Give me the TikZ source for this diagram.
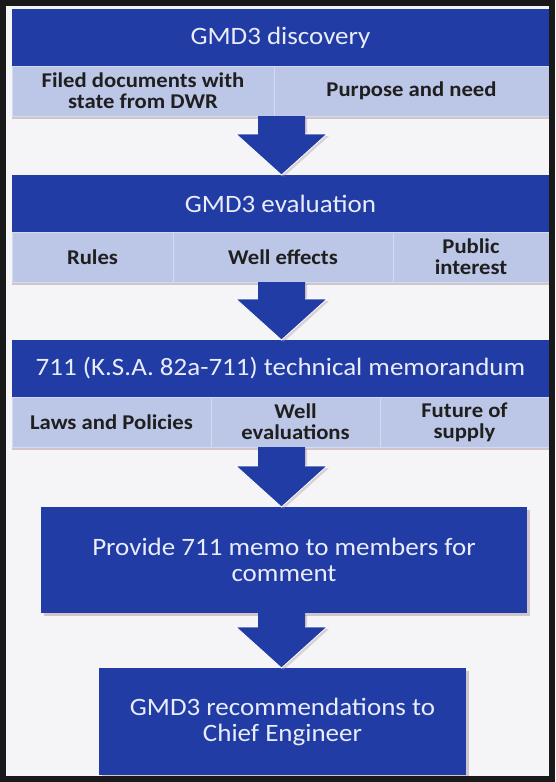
\documentclass[tikz,border=0pt]{standalone}
\usepackage{fontspec}
\setmainfont{Carlito}[FakeStretch=1.08]
\usetikzlibrary{positioning,calc,shadows}
\definecolor{gmdblue}{RGB}{33,61,165}
\definecolor{gmdlight}{RGB}{188,198,230}
\definecolor{gmdline}{RGB}{212,219,240}
\definecolor{gmdtext}{RGB}{234,236,250}
\definecolor{gmdback}{RGB}{245,244,247}
\definecolor{gmdshadow}{RGB}{165,140,150}

\begin{document}
\begin{tikzpicture}
        [
            x=1pt, y=-1pt,
            head/.style={fill=gmdblue, text=gmdtext, minimum width=537pt, minimum height=57pt,
                inner sep=0pt, outer sep=0pt, font=\fontsize{25}{28}\selectfont},
            cell/.style={fill=gmdlight, draw=gmdline, line width=0.6pt, minimum height=50pt,
                inner sep=0pt, outer sep=0pt, align=center, text=black!88,
                font=\bfseries\fontsize{21}{21}\selectfont,
                drop shadow={shadow xshift=0pt, shadow yshift=-3pt, fill=gmdshadow, opacity=0.45}},
            bigbox/.style={fill=gmdblue, text=gmdtext, inner sep=0pt, outer sep=0pt, align=center,
                font=\fontsize{25}{26}\selectfont,
                drop shadow={shadow xshift=3pt, shadow yshift=-3pt, fill=gmdshadow, opacity=0.45}},
            blockarrow/.style={fill=gmdblue,
                drop shadow={shadow xshift=2pt, shadow yshift=-2pt, fill=gmdshadow, opacity=0.35}},
            arrowedge/.style={draw=white, line width=0.8pt, line join=miter},
        ]
        \fill[gmdback] (0,0) rectangle (555,782);
        \useasboundingbox (0,0) rectangle (555,782);
        \coordinate (axis) at (281.5,0);

        % GMD3 discovery
        \node[head, anchor=north] (disc) at (280.5,9) {GMD3 discovery};
        \node[cell, minimum width=262pt, anchor=north west] (filed) at (disc.south west)
            {Filed documents with\\state from DWR};
        \node[cell, minimum width=275pt, right=0pt of filed] (purpose) {Purpose and need};

        % GMD3 evaluation
        \node[head, anchor=north] (eval) at (280.5,175) {GMD3 evaluation};
        \node[cell, minimum width=161pt, anchor=north west] (rules) at (eval.south west) {Rules};
        \node[cell, minimum width=220pt, right=0pt of rules] (effects) {Well effects};
        \node[cell, minimum width=156pt, right=0pt of effects] (public) {Public\\interest};

        % 711 memo
        \node[head, anchor=north] (memo) at (280.5,340) {711 (K.S.A. 82a-711) technical memorandum};
        \node[cell, minimum width=199pt, anchor=north west] (laws) at (memo.south west) {Laws and Policies};
        \node[cell, minimum width=169pt, right=0pt of laws] (wellev) {Well\\evaluations};
        \node[cell, minimum width=169pt, right=0pt of wellev] (future) {Future of\\supply};

        % last two steps
        \node[bigbox, minimum width=486pt, minimum height=106pt] (provide) at (284,560)
            {Provide 711 memo to members for\\comment};
        \node[bigbox, minimum width=367pt, minimum height=107pt] (recommend) at (282.5,721.5)
            {GMD3 recommendations to\\Chief Engineer};

        % block arrows
        \foreach \from/\to in {filed/eval, rules/memo, laws/provide, provide/recommend}
        {
            \fill[blockarrow] ($(\from.south -| axis)+(-23.5,0)$) -- ($(\from.south -| axis)+(23.5,0)$)
                -- ($(\to.north -| axis)+(23.5,-41)$) -- ($(\to.north -| axis)+(45.5,-41)$)
                -- (\to.north -| axis) -- ($(\to.north -| axis)+(-45.5,-41)$)
                -- ($(\to.north -| axis)+(-23.5,-41)$) -- cycle;
            \draw[arrowedge] ($(\to.north -| axis)+(23.5,-41)$) -- ($(\to.north -| axis)+(45.5,-41)$)
                -- (\to.north -| axis) -- ($(\to.north -| axis)+(-45.5,-41)$)
                -- ($(\to.north -| axis)+(-23.5,-41)$);
        }

        % frame
        \draw[black!90, line width=6pt] (3,3) rectangle (552,779);
    \end{tikzpicture}
\end{document}
